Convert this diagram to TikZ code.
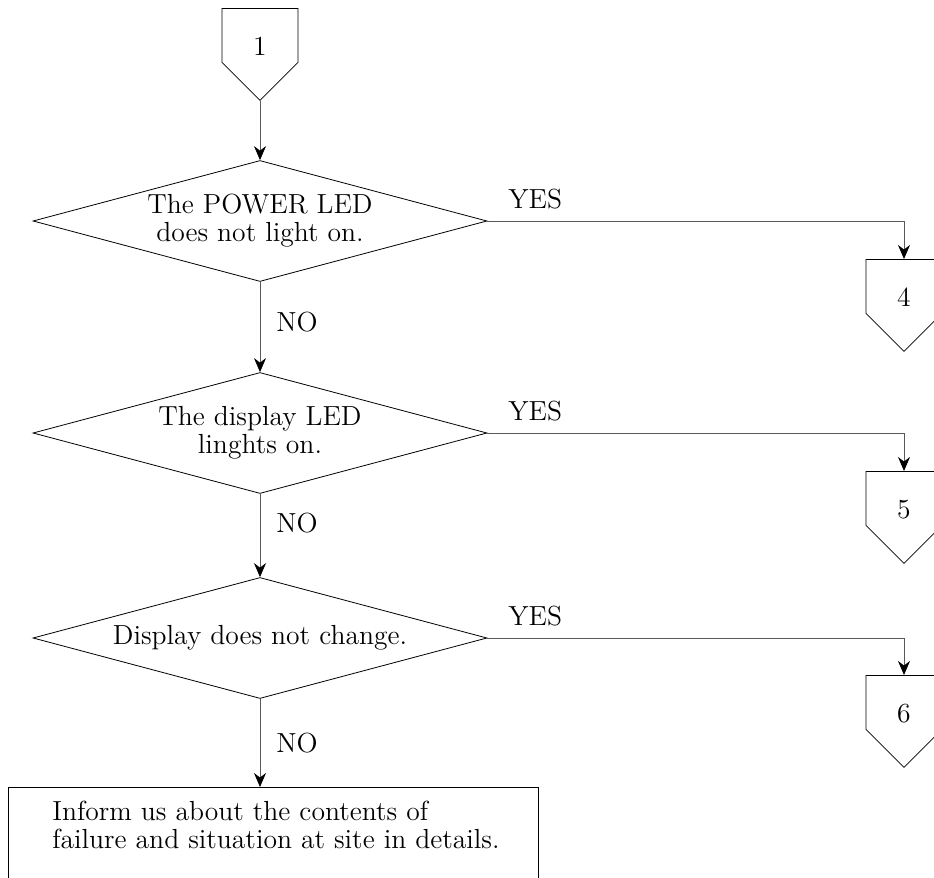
\documentclass[tikz,border=0pt]{standalone}
\usepackage{fontspec}
\usepackage{tikz}
\usetikzlibrary{positioning}
\usetikzlibrary{arrows.meta,shapes}
\usetikzlibrary{calc}
\newcommand{\chartfont}{\fontsize{13.8}{14}\selectfont}
\tikzstyle{decision}=[diamond,draw,aspect=3.75,inner sep=0pt,minimum width=227pt,minimum height=60.5pt,align=center,font=\chartfont]
\tikzstyle{offpage}=[single arrow,draw,shape border rotate=270,single arrow head extend=0pt,single arrow tip angle=90,minimum width=38pt,minimum height=46pt,inner sep=0pt,font=\chartfont]
\tikzstyle{reportbox}=[rectangle,draw,minimum width=265pt,minimum height=100pt,inner sep=0pt]
\tikzstyle{edge} = [draw,black!65,-{Stealth[length=7pt,width=6pt,black]}]
\tikzstyle{answer} = [font=\chartfont,text=black,inner sep=0pt]

\begin{document}
\begin{tikzpicture}[x=0.5pt,y=-0.5pt]
    \path[use as bounding box,clip] (0,0) rectangle (934,878);

    % First we draw the decisions
    \foreach \pos/\name/\label in {{(260,221)/d1/The POWER LED\\does not light on.}, {(260,433)/d2/The display LED\\linghts on.}, {(260,638)/d3/Display does not change.}}
        \node[decision] (\name) at \pos {\label};

    % Then the off-page connectors
    \foreach \pos/\name/\label in {{(260,8)/p1/1}, {(904,259)/p4/4}, {(904,471)/p5/5}, {(904,675)/p6/6}}
        \node[offpage,anchor=tail] (\name) at \pos {\raisebox{-10pt}[0pt][0pt]{\label}};

    % The box at the end
    \node[reportbox,anchor=north west] (box) at (8,787) {};
    \node[answer,anchor=north west,align=left] (inform) at (52,801) {Inform us about the contents of\\failure and situation at site in details.};

    % Connect them with edges and answers
    \path[edge] (p1.tip) -- (d1.north);
    \foreach \source/\dest/\where in {d1/d2/0.45, d2/d3/0.35, d3/box/0.5}
        \path[edge] (\source.south) -- node[answer,right=8pt,pos=\where] {NO} (\source.south |- \dest.north);
    \foreach \source/\dest in {d1/p4, d2/p5, d3/p6}
        \path[edge] (\source.east) -- node[answer,above=6pt,pos=0.115] {YES} (\source.east -| \dest.tail) -- (\dest.tail);

\end{tikzpicture}
\end{document}
